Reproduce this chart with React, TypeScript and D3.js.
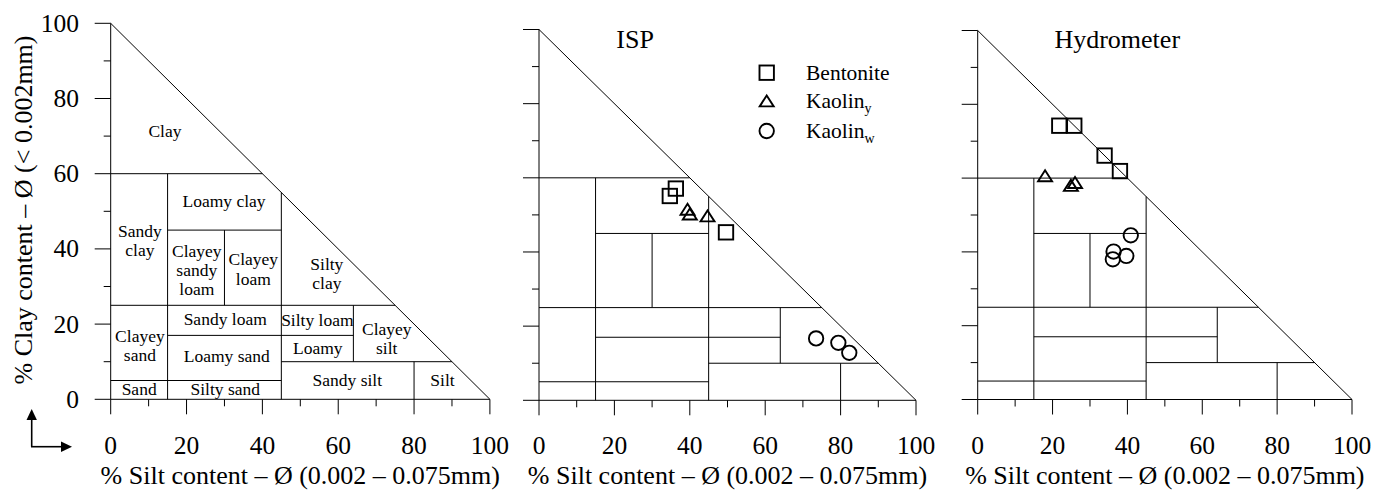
import React from "react";
import * as d3 from "d3";

const W = 1386;
const H = 491;
const FONT = "'Liberation Serif', 'Times New Roman', serif";

const majorTicks = [0, 20, 40, 60, 80, 100];
const minorTicks = [10, 30, 50, 70, 90];
const tickLabels = ["0", "20", "40", "60", "80", "100"];

// classification boundaries: [silt1, clay1, silt2, clay2]
const boundaries: number[][] = [
  [0, 60, 40, 60],
  [15, 0, 15, 60],
  [15, 45, 45, 45],
  [30, 25, 30, 45],
  [45, 0, 45, 55],
  [0, 25, 75, 25],
  [15, 17, 64, 17],
  [64, 10, 64, 25],
  [45, 10, 90, 10],
  [0, 5, 45, 5],
  [80, 0, 80, 10],
  [0, 100, 100, 0],
  [0, 0, 0, 100],
  [0, 0, 100, 0],
];

// zone names: [silt, clay, lines]
const zoneNames: [number, number, string[]][] = [
  [14.3, 71.1, ["Clay"]],
  [29.9, 52.6, ["Loamy clay"]],
  [7.7, 42, ["Sandy", "clay"]],
  [22.7, 34.2, ["Clayey", "sandy", "loam"]],
  [37.6, 34.4, ["Clayey", "loam"]],
  [57, 33.1, ["Silty", "clay"]],
  [30.2, 21.1, ["Sandy loam"]],
  [54.5, 20.9, ["Silty loam"]],
  [72.8, 15.9, ["Clayey", "silt"]],
  [7.7, 14, ["Clayey", "sand"]],
  [30.6, 11.3, ["Loamy sand"]],
  [54.6, 13.3, ["Loamy"]],
  [62.4, 4.9, ["Sandy silt"]],
  [87.5, 4.9, ["Silt"]],
  [7.5, 2.6, ["Sand"]],
  [30.2, 2.6, ["Silty sand"]],
];

// series values: [silt %, clay %]
const ispBentonite = [[36.3, 57.1], [34.7, 55.1], [49.6, 45.3]];
const ispKaolinY = [[39.4, 51.5], [40.0, 50.2], [44.7, 49.7]];
const ispKaolinW = [[73.5, 16.7], [79.4, 15.5], [82.3, 12.8]];

const hydBentonite = [[21.8, 74.2], [25.8, 74.2], [33.9, 66.1], [38.0, 61.9]];
const hydKaolinY = [[18.0, 60.6], [26.0, 58.8], [24.9, 58.0]];
const hydKaolinW = [[40.9, 44.5], [36.3, 40.1], [36.1, 38.0], [39.7, 38.9]];

const panels = [
  { title: "", x0: 110.7, x1: 489.9, yb: 399.3, yt: 23.3, labels: true, zones: true },
  { title: "ISP", x0: 539, x1: 916, yb: 400.3, yt: 29.5, labels: false, zones: false,
    series: [ispBentonite, ispKaolinY, ispKaolinW] },
  { title: "Hydrometer", x0: 977.7, x1: 1352, yb: 399.5, yt: 30.5, labels: false, zones: false,
    series: [hydBentonite, hydKaolinY, hydKaolinW] },
];

const legendNames = ["Bentonite", "Kaolin", "Kaolin"];
const legendSubs = ["", "y", "w"];

function Marker({ kind, x, y }: { kind: number; x: number; y: number }) {
  const sw = 1.9;
  if (kind === 0) {
    return <rect x={x - 7.2} y={y - 7.2} width={14.4} height={14.4} fill="none" stroke="#000" strokeWidth={sw} />;
  }
  if (kind === 1) {
    const p = `M${x},${y - 5.6}L${x + 7},${y + 5.4}L${x - 7},${y + 5.4}Z`;
    return <path d={p} fill="none" stroke="#000" strokeWidth={sw} strokeLinejoin="miter" />;
  }
  return <circle cx={x} cy={y} r={7.2} fill="none" stroke="#000" strokeWidth={sw} />;
}

function Panel({ p }: { p: any }) {
  const xs = d3.scaleLinear().domain([0, 100]).range([p.x0, p.x1]);
  const ys = d3.scaleLinear().domain([0, 100]).range([p.yb, p.yt]);
  const cx = (p.x0 + p.x1) / 2;
  return (
    <g>
      {boundaries.map((b, i) => (
        <line key={"b" + i} x1={xs(b[0])} y1={ys(b[1])} x2={xs(b[2])} y2={ys(b[3])} stroke="#000" strokeWidth={1} />
      ))}
      {majorTicks.map((t) => (
        <g key={"mt" + t}>
          <line x1={p.x0 - 16} x2={p.x0} y1={ys(t)} y2={ys(t)} stroke="#000" strokeWidth={1} />
          <line x1={xs(t)} x2={xs(t)} y1={p.yb} y2={p.yb + 15} stroke="#000" strokeWidth={1} />
        </g>
      ))}
      {minorTicks.map((t) => (
        <g key={"nt" + t}>
          <line x1={p.x0 - 7} x2={p.x0} y1={ys(t)} y2={ys(t)} stroke="#000" strokeWidth={1} />
          <line x1={xs(t)} x2={xs(t)} y1={p.yb} y2={p.yb + 7} stroke="#000" strokeWidth={1} />
        </g>
      ))}
      {majorTicks.map((t, i) => (
        <text key={"xl" + t} x={xs(t)} y={453.5} textAnchor="middle" fontSize={25.5} fontFamily={FONT}>
          {tickLabels[i]}
        </text>
      ))}
      {p.labels &&
        majorTicks.map((t, i) => (
          <text key={"yl" + t} x={79} y={ys(t) + 8.5} textAnchor="end" fontSize={25.5} fontFamily={FONT}>
            {tickLabels[i]}
          </text>
        ))}
      <text x={cx} y={484} textAnchor="middle" fontSize={26} fontFamily={FONT}>
        % Silt content – Ø (0.002 – 0.075mm)
      </text>
      {p.zones &&
        zoneNames.map(([zx, zy, lines], i) => (
          <text key={"z" + i} textAnchor="middle" fontSize={17.5} fontFamily={FONT}>
            {lines.map((ln, j) => (
              <tspan key={j} x={xs(zx)} y={ys(zy) + 5 + (j - (lines.length - 1) / 2) * 19.2}>
                {ln}
              </tspan>
            ))}
          </text>
        ))}
      {p.title && (
        <text x={xs(20.5)} y={48} fontSize={26} fontFamily={FONT}>
          {p.title}
        </text>
      )}
      {p.series &&
        p.series.map((s: number[][], k: number) =>
          s.map((d, j) => <Marker key={k + "-" + j} kind={k} x={xs(d[0])} y={ys(d[1])} />)
        )}
    </g>
  );
}

export default function App() {
  const legendY = [72.7, 101, 131];
  return (
    <svg width={W} height={H} style={{ position: "absolute", left: 0, top: 0, background: "#fff" }}>
      <rect x={0} y={0} width={W} height={H} fill="#fff" />
      {panels.map((p, i) => (
        <Panel key={i} p={p} />
      ))}
      <text transform="translate(32,210) rotate(-90)" textAnchor="middle" fontSize={26} fontFamily={FONT}>
        % Clay content – Ø (&lt; 0.002mm)
      </text>
      {/* direction arrows */}
      <line x1={31.7} y1={446.7} x2={31.7} y2={418} stroke="#000" strokeWidth={1.6} />
      <path d="M31.7,409 L26.5,420 L36.9,420 Z" fill="#000" />
      <line x1={31} y1={446.7} x2={63} y2={446.7} stroke="#000" strokeWidth={1.6} />
      <path d="M72,446.7 L61,441.5 L61,451.9 Z" fill="#000" />
      {/* legend */}
      {legendNames.map((n, i) => (
        <g key={"lg" + i}>
          <Marker kind={i} x={766.7} y={legendY[i]} />
          <text x={806} y={legendY[i] + 7} fontSize={21.5} fontFamily={FONT}>
            {n}
            {legendSubs[i] && (
              <tspan fontSize={14} dy={5}>
                {legendSubs[i]}
              </tspan>
            )}
          </text>
        </g>
      ))}
    </svg>
  );
}
